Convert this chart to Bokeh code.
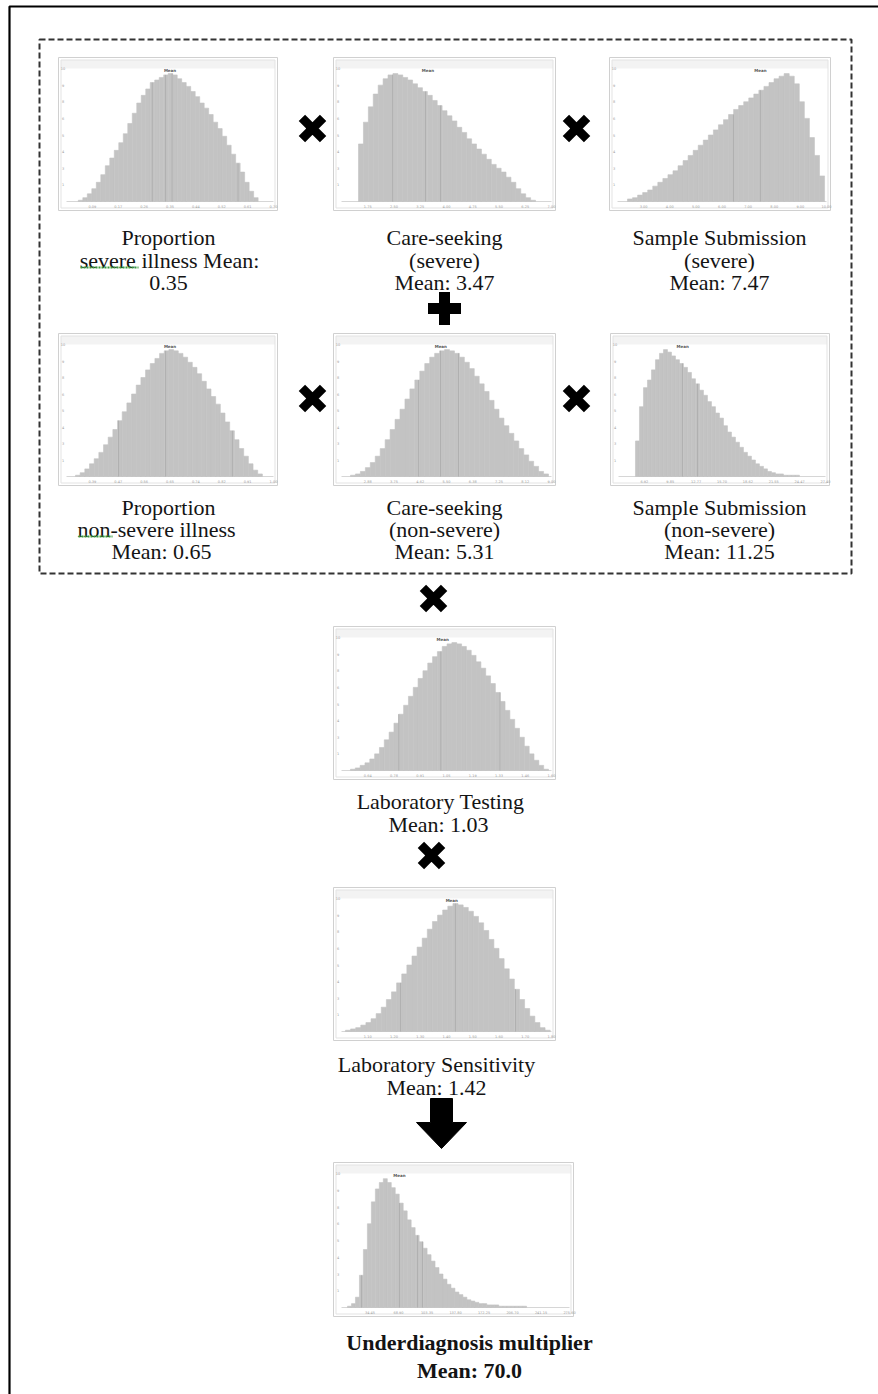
import numpy as np
from bokeh.plotting import figure
from bokeh.models import Range1d
from bokeh.embed import file_html
from bokeh.resources import INLINE
from bokeh.core.properties import value

# ---------------- data ----------------
names = ["sev_prop", "sev_care", "sev_samp", "non_prop", "non_care", "non_samp",
         "lab_test", "lab_sens", "multiplier"]

means = [0.35, 3.47, 7.47, 0.65, 5.31, 11.25, 1.03, 1.42, 70.0]

label_lines = [
    ["Proportion", "severe illness Mean:", "{m:.2f}"],
    ["Care-seeking", "(severe)", "Mean: {m:.2f}"],
    ["Sample Submission", "(severe)", "Mean: {m:.2f}"],
    ["Proportion", "non-severe illness", "Mean: {m:.2f}"],
    ["Care-seeking", "(non-severe)", "Mean: {m:.2f}"],
    ["Sample Submission", "(non-severe)", "Mean: {m:.2f}"],
    ["Laboratory Testing", "Mean: {m:.2f}"],
    ["Laboratory Sensitivity", "Mean: {m:.2f}"],
    ["Underdiagnosis multiplier", "Mean: {m:.1f}"],
]

xlims = [(0.0, 0.7), (1.0, 7.0), (2.0, 10.0), (0.3, 1.0), (2.0, 9.0), (4.0, 27.4),
         (0.5, 1.6), (1.0, 1.8), (0.0, 275.6)]
bin_starts = [0.04, 1.486, 2.383, 0.3304, 2.3, 5.92, 0.547, 1.015, 7.25]
bin_widths = [0.0152, 0.1405, 0.1934, 0.0158, 0.165, 0.452, 0.0253, 0.0195, 4.81]

sev_prop_counts = [1, 3, 6, 10, 15, 21, 28, 34, 40, 46, 53, 61, 69, 77, 83, 88, 93, 95, 97, 99,
                   100, 99, 96, 93, 90, 86, 82, 77, 73, 68, 62, 57, 51, 44, 37, 30, 23, 15, 8, 3]
sev_care_counts = [45, 62, 74, 84, 91, 96, 99, 100, 99, 97, 95, 92, 89, 86, 83, 79, 75, 71, 67, 63,
                   58, 54, 49, 45, 41, 37, 33, 29, 26, 23, 19, 15, 10, 6, 3, 1]
sev_samp_counts = [2, 3, 5, 7, 9, 12, 15, 18, 21, 24, 28, 32, 36, 40, 44, 48, 52, 56, 60, 64,
                   68, 72, 75, 78, 81, 84, 87, 90, 93, 96, 98, 100, 98, 92, 78, 65, 50, 36, 20]
non_prop_counts = [1, 3, 6, 10, 14, 19, 25, 31, 37, 44, 51, 58, 65, 72, 78, 84, 89, 93, 97, 99,
                   100, 99, 97, 94, 90, 86, 81, 75, 69, 63, 57, 50, 43, 36, 29, 22, 16, 10, 5, 2]
non_care_counts = [1, 2, 4, 7, 11, 16, 22, 29, 37, 45, 53, 61, 69, 76, 83, 89, 94, 97, 99, 100,
                   99, 97, 94, 90, 85, 79, 73, 67, 60, 53, 46, 40, 34, 28, 22, 17, 12, 8, 4, 2]
non_samp_counts = [28, 55, 70, 76, 84, 92, 97, 100, 98, 95, 92, 89, 86, 82, 77, 73, 68, 64, 59, 55,
                   50, 46, 40, 35, 31, 27, 23, 19, 16, 13, 10, 8, 6, 4, 3, 2, 2, 1, 1, 1, 1]
lab_test_counts = [1, 2, 4, 6, 9, 13, 18, 24, 30, 37, 44, 51, 58, 65, 72, 78, 84, 89, 93, 97,
                   99, 100, 99, 97, 94, 90, 85, 80, 74, 68, 61, 54, 47, 40, 33, 26, 19, 13, 8, 4, 1]
lab_sens_counts = [1, 2, 3, 5, 7, 10, 14, 19, 25, 31, 38, 45, 52, 59, 66, 73, 80, 86, 91, 95,
                   98, 100, 99, 97, 94, 90, 85, 79, 72, 65, 57, 49, 41, 33, 25, 18, 12, 7, 3, 1]
multiplier_counts = [1, 3, 8, 25, 45, 65, 82, 92, 97, 100, 97, 93, 88, 81, 75, 68, 62, 56, 51, 46,
                     41, 36, 31, 26, 22, 18, 15, 12, 10, 8, 6, 5, 4, 3, 3, 2, 2, 2, 1, 1,
                     1, 1, 1, 1, 1]
counts_all = [sev_prop_counts, sev_care_counts, sev_samp_counts, non_prop_counts, non_care_counts,
              non_samp_counts, lab_test_counts, lab_sens_counts, multiplier_counts]

# faint delimiter lines drawn inside each histogram (data units)
delims = [[0.290, 0.335, 0.357, 0.580], [2.46, 3.40, 3.83], [6.44, 7.47], [0.476, 0.635, 0.861],
          [4.57, 5.30, 5.90], [11.23, 12.93], [0.80, 1.02, 1.33], [1.225, 1.434, 1.663],
          [24.2, 70.1, 91.9, 97.9]]

# ---------------- layout (page pixel coordinates) ----------------
boxes = [(58, 57, 277, 210), (333, 57, 555, 210), (609, 57, 830, 210),
         (58, 333, 277, 485), (333, 333, 555, 485), (610, 333, 829, 485),
         (333, 626, 555, 779), (333, 887, 555, 1040), (333, 1162, 573, 1316)]
label_cx = [[168, 169, 168], [444, 444, 444], [719, 719, 719],
            [168, 156, 161], [444, 444, 444], [719, 719, 719],
            [440, 438], [436, 436], [469, 469]]
label_base = [[237, 260, 282], [237, 260, 282], [237, 260, 282],
              [507, 529, 551], [507, 529, 551], [507, 529, 551],
              [801, 824], [1064, 1087], [1342, 1370]]
bold_label = [False] * 8 + [True]

W, H = 878, 1394
p = figure(width=W, height=H, x_range=Range1d(0, W), y_range=Range1d(H, 0),
           output_backend="svg", toolbar_location=None,
           x_axis_location=None, y_axis_location=None, min_border=0,
           outline_line_color=None, background_fill_color="white", border_fill_color="white")
p.xgrid.visible = False
p.ygrid.visible = False

# outer frame and dashed group frame
p.quad(left=[9], right=[900], top=[6], bottom=[1420], fill_color=None,
       line_color="black", line_width=2.2)
p.quad(left=[39], right=[851], top=[39], bottom=[573], fill_color=None,
       line_color="#333333", line_width=2, line_dash="6 3")

BAR = "#c3c3c3"
for k in range(9):
    x0, y0, x1, y1 = boxes[k]
    counts = counts_all[k]
    lo, hi = xlims[k]
    # panel chrome
    p.quad(left=[x0], right=[x1], top=[y0], bottom=[y1], fill_color="white",
           line_color="#d0d0d0", line_width=1)
    p.quad(left=[x0 + 2.5], right=[x1 - 2.5], top=[y0 + 2.5], bottom=[y0 + 11],
           fill_color="#f3f3f3", line_color=None)
    p.quad(left=[x0 + 2.5], right=[x1 - 2.5], top=[y0 + 2.5], bottom=[y1 - 2.5],
           fill_color=None, line_color="#e3e3e3", line_width=1)
    dx0, dx1, dyt, dyb = x0 + 8, x1 - 4, y0 + 11, y1 - 9
    ymax = max(counts) * 1.04
    sub = p.subplot(x_source=Range1d(lo, hi), y_source=Range1d(0, ymax),
                    x_target=Range1d(dx0, dx1), y_target=Range1d(dyb, dyt))
    # baseline
    sub.segment(x0=[lo], y0=[0], x1=[hi], y1=[0], line_color="#d6d6d6", line_width=1)
    # bars
    n = len(counts)
    lefts = [bin_starts[k] + i * bin_widths[k] for i in range(n)]
    rights = [l + bin_widths[k] for l in lefts]
    sub.quad(left=lefts, right=rights, bottom=0, top=counts, fill_color=BAR,
             line_color=BAR, line_width=0.6)
    # delimiter lines
    tops = []
    for d in delims[k]:
        idx = min(max(int((d - bin_starts[k]) / bin_widths[k]), 0), n - 1)
        tops.append(counts[idx])
    sub.segment(x0=delims[k], y0=[0] * len(tops), x1=delims[k], y1=tops,
                line_color="#b0b0b0", line_width=1)
    # "Mean" marker label
    sub.text(x=[means[k]], y=[ymax * 0.985], text=["Mean"], text_font=value("DejaVu Sans"),
             text_font_size="4px", text_font_style="bold", text_color="#555555",
             text_align="center", text_baseline="middle")
    # tiny tick labels
    xt = np.linspace(lo, hi, 9)[1:]
    ypx = ymax / (dyb - dyt)
    xpx = (hi - lo) / (dx1 - dx0)
    sub.text(x=list(xt), y=[-4.5 * ypx] * len(xt), text=[f"{v:.2f}" for v in xt],
             text_font=value("DejaVu Sans"), text_font_size="3.5px", text_color="#9a9a9a",
             text_align="center", text_baseline="middle")
    yt = np.linspace(0, ymax, 9)[1:]
    sub.text(x=[lo - 3.5 * xpx] * len(yt), y=list(yt), text=[f"{v / 10:.0f}" for v in yt],
             text_font=value("DejaVu Sans"), text_font_size="3.5px", text_color="#9a9a9a",
             text_align="center", text_baseline="middle")
    # caption
    lines = [s.format(m=means[k]) for s in label_lines[k]]
    p.text(x=label_cx[k], y=label_base[k], text=lines,
           text_font=value("Liberation Serif"), text_font_size="22px",
           text_font_style="bold" if bold_label[k] else "normal",
           text_color="#141414", text_align="center", text_baseline="alphabetic")

# spell-check squiggles
p.segment(x0=[80, 78], y0=[267, 536], x1=[138, 112], y1=[267, 536],
          line_color="#3a9a3a", line_width=2, line_dash="2 1")

# operators
p.scatter(x=[312, 576, 312, 576, 433, 431], y=[128, 128, 398, 398, 598, 855],
          marker="x", size=30, line_width=9, line_color="black", fill_color=None)
p.scatter(x=[444], y=[308], marker="cross", size=33, line_width=11, line_color="black")
p.patch(x=[430, 452, 452, 466, 441, 416, 430], y=[1098, 1098, 1122, 1122, 1148, 1122, 1122],
        fill_color="black", line_color="black")

open("out.html", "w").write(file_html(p, INLINE))
